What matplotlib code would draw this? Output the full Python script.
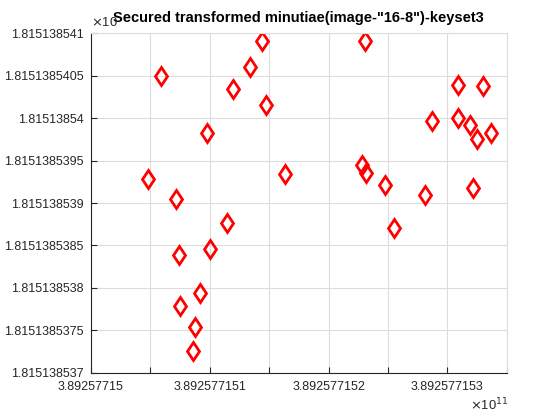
import numpy as np
import matplotlib
matplotlib.use('Agg')
import matplotlib.pyplot as plt
from matplotlib.ticker import FuncFormatter, MultipleLocator

plt.rcParams['font.family'] = ['Liberation Sans', 'DejaVu Sans']

# reference points of the two axes
x_base = 389257715000.0
y_base = 1815138537.0

# offsets
x_off = [144.3, 134.2, 59.0, 119.9, 147.7, 97.7, 48.3, 163.7, 71.4, 114.6,
         100.5, 74.1, 92.1, 75.0, 87.4, 86.2,
         231.1, 308.6, 330.2, 286.7, 309.2, 318.7, 336.7, 325.4, 228.3, 231.9,
         247.9, 280.8, 321.6, 254.7]
y_off = [3.909, 3.599, 3.500, 3.340, 3.151, 2.829, 2.286, 2.342, 2.051, 1.761,
         1.454, 1.387, 0.936, 0.786, 0.539, 0.256,
         3.909, 3.391, 3.375, 2.963, 3.005, 2.919, 2.825, 2.754, 2.451, 2.354,
         2.212, 2.091, 2.177, 1.705]

x = x_base + np.array(x_off)
y = y_base + np.array(y_off)

title = 'Secured transformed minutiae(image-"16-8")-keyset3'

fig = plt.figure(figsize=(5.6, 4.2), dpi=100)
ax = fig.add_axes([91 / 560, 1 - 372.7 / 420, (506.7 - 91) / 560, (372.7 - 33.3) / 420])

ax.plot(x, y, linestyle='none', marker='d', markersize=9.5,
        markerfacecolor='none', markeredgecolor='red', markeredgewidth=2.0)

ax.set_xlim(x_base, x_base + 350)
ax.set_ylim(y_base, y_base + 4)
ax.xaxis.set_major_locator(MultipleLocator(50))
ax.yaxis.set_major_locator(MultipleLocator(0.5))


def fx(v, pos):
    d = round(v - x_base)
    if d % 100 != 0:
        return ''
    return ('%.9f' % (v / 1e11)).rstrip('0')


def fy(v, pos):
    return ('%.10f' % (v / 1e9)).rstrip('0')


ax.xaxis.set_major_formatter(FuncFormatter(fx))
ax.yaxis.set_major_formatter(FuncFormatter(fy))

dark = '#262626'
ax.grid(True, color='#dcdcdc', linewidth=0.8)
ax.set_axisbelow(True)
for s in ['top', 'right']:
    ax.spines[s].set_color('#dcdcdc')
for s in ['left', 'bottom']:
    ax.spines[s].set_color(dark)
ax.tick_params(direction='in', length=4, color=dark, labelcolor=dark,
               labelsize=9, top=False, right=False)
ax.tick_params(axis='y', pad=5.5)
ax.tick_params(axis='x', pad=6)

ax.set_title(title, fontsize=10.5, fontweight='bold', pad=8)
fig.text(470 / 560, 1 - 405 / 420, r'$\times$10$^{11}$', fontsize=9.4, color=dark,
         va='center', ha='left')
fig.text(91 / 560, 1 - 22 / 420, r'$\times$10', fontsize=9.4, color=dark,
         va='center', ha='left', zorder=0)

fig.savefig('out.png', dpi=100)
